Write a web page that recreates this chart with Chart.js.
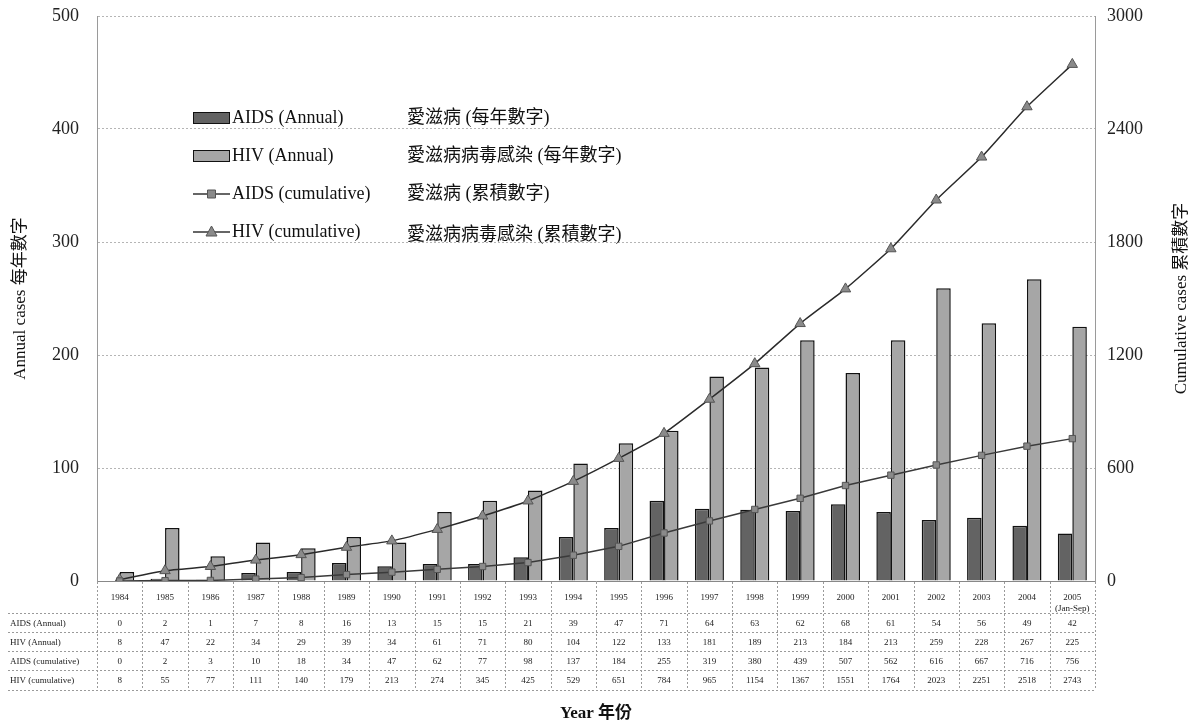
<!DOCTYPE html>
<html>
<head>
<meta charset="utf-8">
<script src="https://cdn.jsdelivr.net/npm/chart.js@4/dist/chart.umd.min.js"></script>
<style>
html,body{margin:0;padding:0;background:#fff;}
#wrap{width:1203px;height:728px;position:relative;}
</style>
</head>
<body>
<div id="wrap"><canvas id="c" width="1203" height="728"></canvas></div>
<script>
const years = ['1984','1985','1986','1987','1988','1989','1990','1991','1992','1993','1994','1995','1996','1997','1998','1999','2000','2001','2002','2003','2004',['2005','(Jan-Sep)']];
const aidsAnnual = [0, 2, 1, 7, 8, 16, 13, 15, 15, 21, 39, 47, 71, 64, 63, 62, 68, 61, 54, 56, 49, 42];
const hivAnnual = [8, 47, 22, 34, 29, 39, 34, 61, 71, 80, 104, 122, 133, 181, 189, 213, 184, 213, 259, 228, 267, 225];
const aidsCumulative = [0, 2, 3, 10, 18, 34, 47, 62, 77, 98, 137, 184, 255, 319, 380, 439, 507, 562, 616, 667, 716, 756];
const hivCumulative = [8, 55, 77, 111, 140, 179, 213, 274, 345, 425, 529, 651, 784, 965, 1154, 1367, 1551, 1764, 2023, 2251, 2518, 2743];
const leftTicks = [0, 100, 200, 300, 400, 500];
const rightTicks = [0, 600, 1200, 1800, 2400, 3000];

const seriesNames = ['AIDS (Annual)', 'HIV (Annual)', 'AIDS (cumulative)', 'HIV (cumulative)'];
const seriesNamesZh = ['愛滋病 (每年數字)', '愛滋病病毒感染 (每年數字)', '愛滋病 (累積數字)', '愛滋病病毒感染 (累積數字)'];
const tableRowLabels = ['AIDS (Annual)', 'HIV (Annual)', 'AIDS (cumulative)', 'HIV (cumulative)'];

const SERIF = "'Liberation Serif', 'Noto Sans CJK TC', serif";
const AIDS_BAR = '#636363', HIV_BAR = '#a6a6a6', EDGE = '#111';

const overlay = {
  id: 'overlay',
  afterDraw(chart) {
    const ctx = chart.ctx, xs = chart.scales.x, ca = chart.chartArea;
    const n = years.length;
    const step = (xs.getPixelForValue(1) - xs.getPixelForValue(0));
    ctx.save();
    // table grid
    ctx.strokeStyle = '#9a9a9a';
    ctx.lineWidth = 1;
    ctx.setLineDash([2, 2]);
    const rowY = [613, 632, 651, 670, 690];
    const tableTop = ca.bottom + 1;
    for (let i = 0; i <= n; i++) {
      const x = Math.round(xs.getPixelForValue(i) - step / 2) + 0.5;
      ctx.beginPath(); ctx.moveTo(x, tableTop); ctx.lineTo(x, rowY[4]); ctx.stroke();
    }
    rowY.forEach(y => {
      ctx.beginPath(); ctx.moveTo(8, y + 0.5); ctx.lineTo(Math.round(xs.getPixelForValue(n - 1) + step / 2), y + 0.5); ctx.stroke();
    });
    ctx.setLineDash([]);
    // table text
    const rows = [aidsAnnual, hivAnnual, aidsCumulative, hivCumulative];
    ctx.fillStyle = '#222';
    ctx.textBaseline = 'middle';
    ctx.font = "9px " + SERIF;
    rows.forEach((arr, r) => {
      const yc = (rowY[r] + rowY[r + 1]) / 2 + 1;
      ctx.textAlign = 'left';
      ctx.fillText(tableRowLabels[r], 10, yc);
      ctx.textAlign = 'center';
      arr.forEach((v, i) => ctx.fillText(String(v), xs.getPixelForValue(i), yc));
    });
    // legend
    const lx = 193, lw = 37, txX = 232, zhX = 407;
    const ly = [118, 156, 194, 232];
    ctx.font = "18px " + SERIF;
    ctx.textAlign = 'left';
    ctx.textBaseline = 'middle';
    for (let k = 0; k < 4; k++) {
      const y = ly[k];
      if (k < 2) {
        ctx.fillStyle = k === 0 ? AIDS_BAR : HIV_BAR;
        ctx.fillRect(lx, y - 6, lw, 12);
        ctx.strokeStyle = EDGE; ctx.lineWidth = 1;
        ctx.strokeRect(lx + 0.5, y - 5.5, lw - 1, 11);
      } else {
        ctx.strokeStyle = '#333'; ctx.lineWidth = 1.5;
        ctx.beginPath(); ctx.moveTo(lx, y); ctx.lineTo(lx + lw, y); ctx.stroke();
        ctx.fillStyle = '#8a8a8a'; ctx.strokeStyle = '#555'; ctx.lineWidth = 1;
        const cx = lx + lw / 2;
        ctx.beginPath();
        if (k === 2) { ctx.rect(cx - 4, y - 4, 8, 8); }
        else { ctx.moveTo(cx, y - 6); ctx.lineTo(cx + 5.5, y + 4); ctx.lineTo(cx - 5.5, y + 4); ctx.closePath(); }
        ctx.fill(); ctx.stroke();
      }
      ctx.fillStyle = '#111';
      ctx.fillText(seriesNames[k], txX, y);
      ctx.fillText(seriesNamesZh[k], zhX, y + (k === 3 ? 3 : 0));
    }
    // right axis title (reads bottom to top)
    ctx.save();
    ctx.translate(1182, (ca.top + ca.bottom) / 2);
    ctx.rotate(-Math.PI / 2);
    ctx.textAlign = 'center';
    ctx.fillStyle = '#111';
    ctx.font = "17px " + SERIF;
    ctx.fillText('Cumulative cases 累積數字', 0, 0);
    ctx.restore();
    ctx.restore();
  }
};

new Chart(document.getElementById('c'), {
  type: 'bar',
  data: {
    labels: years,
    datasets: [
      { type: 'line', label: seriesNames[2], data: aidsCumulative, yAxisID: 'y1', borderColor: '#3a3a3a', borderWidth: 1.5,
        pointStyle: 'rect', pointRadius: 4.5, pointBackgroundColor: '#8a8a8a', pointBorderColor: '#555', pointBorderWidth: 1, tension: 0, order: 0 },
      { type: 'line', label: seriesNames[3], data: hivCumulative, yAxisID: 'y1', borderColor: '#2a2a2a', borderWidth: 1.5,
        pointStyle: 'triangle', pointRadius: 6, pointBackgroundColor: '#8a8a8a', pointBorderColor: '#555', pointBorderWidth: 1, tension: 0.15, order: 0 },
      { label: seriesNames[0], data: aidsAnnual, yAxisID: 'y', backgroundColor: AIDS_BAR, borderColor: EDGE, borderWidth: 1.5,
        categoryPercentage: 0.64, barPercentage: 1.0, order: 2 },
      { label: seriesNames[1], data: hivAnnual, yAxisID: 'y', backgroundColor: HIV_BAR, borderColor: EDGE, borderWidth: 1.5,
        categoryPercentage: 0.64, barPercentage: 1.0, order: 2 }
    ]
  },
  options: {
    responsive: false,
    animation: false,
    layout: { padding: { top: 16, left: 0, right: 0, bottom: 0 } },
    plugins: { legend: { display: false }, tooltip: { enabled: false } },
    scales: {
      x: {
        grid: { display: false },
        border: { display: true, color: '#888' },
        ticks: { font: { family: SERIF, size: 9 }, color: '#222', padding: 3, maxRotation: 0, autoSkip: false },
        title: { display: true, text: 'Year 年份', font: { family: SERIF, size: 17, weight: 'bold' }, color: '#111', padding: { top: 0, bottom: 4 } },
        afterFit(s) { s.height = 147; s.paddingLeft = 0; s.paddingRight = 0; }
      },
      y: {
        position: 'left', min: 0, max: 500,
        afterBuildTicks(s) { s.ticks = leftTicks.map(v => ({ value: v })); },
        grid: { color: '#b5b5b5', lineWidth: 1, drawTicks: false },
        border: { display: true, color: '#9a9a9a', dash: [2, 2] },
        ticks: { font: { family: SERIF, size: 18 }, color: '#222', padding: 18 },
        title: { display: true, text: 'Annual cases 每年數字', font: { family: SERIF, size: 17 }, color: '#111', padding: { top: 10, bottom: 0 } },
        afterFit(s) { s.width = 97; s.paddingTop = 0; s.paddingBottom = 0; }
      },
      y1: {
        position: 'right', min: 0, max: 3000,
        afterBuildTicks(s) { s.ticks = rightTicks.map(v => ({ value: v })); },
        grid: { drawOnChartArea: false, drawTicks: false },
        border: { display: true, color: '#9a9a9a', dash: [2, 2] },
        ticks: { font: { family: SERIF, size: 18 }, color: '#222', padding: 12, callback: v => String(v) },
        afterFit(s) { s.width = 108; s.paddingTop = 0; s.paddingBottom = 0; }
      }
    }
  },
  plugins: [overlay]
});
</script>
</body>
</html>
